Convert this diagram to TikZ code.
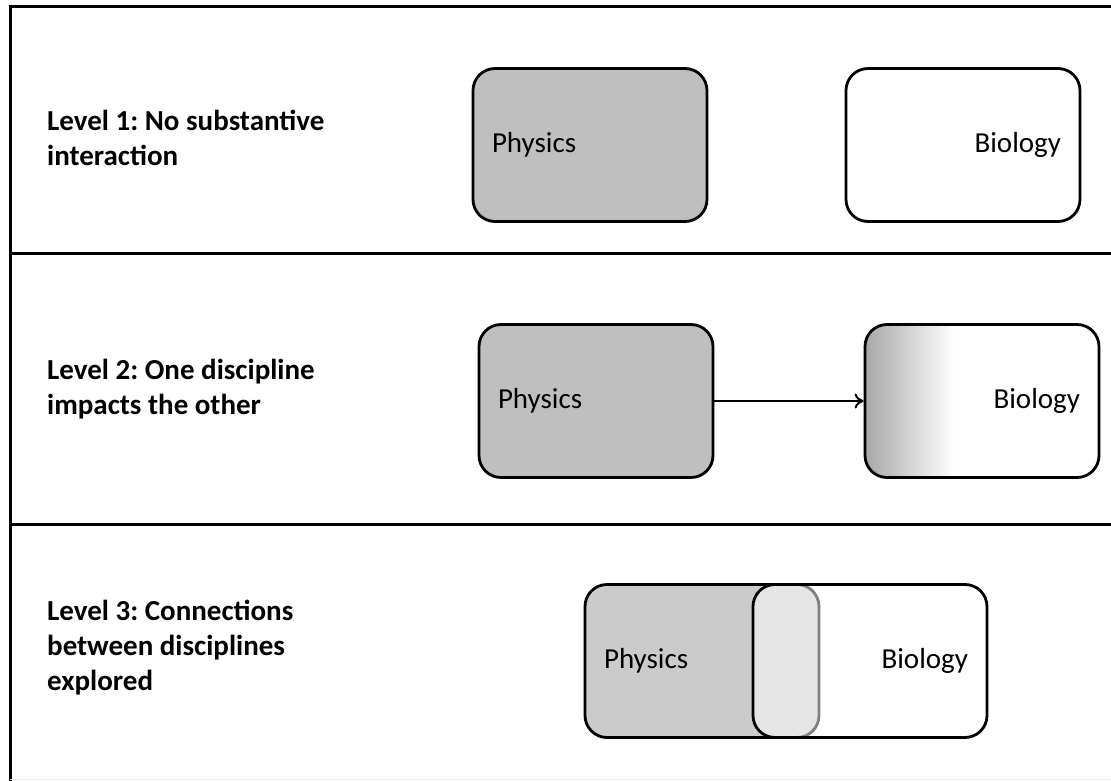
\documentclass[tikz,border=0pt]{standalone}
\usepackage{fontspec}
\setmainfont{Carlito}
\usetikzlibrary{arrows.meta}
\definecolor{physGray}{RGB}{191,191,191}
\definecolor{physLight}{RGB}{203,203,203}
\definecolor{fadeGray}{RGB}{168,168,168}
\pgfdeclarehorizontalshading{biofade}{100bp}{color(0bp)=(fadeGray); color(25bp)=(fadeGray); color(44bp)=(white); color(100bp)=(white)}
\frenchspacing

\begin{document}
\begin{tikzpicture}[x=1pt, y=-1pt]
    \tikzset{
        level/.style = {anchor=west, align=left, inner sep=0pt, font=\fontsize{29}{35}\selectfont\bfseries},
        disc/.style = {draw=black, line width=2.8pt, rounded corners=22pt, minimum height=153pt, text width=196pt, inner xsep=19pt, font=\fontsize{29}{34}\selectfont},
        physbox/.style = {disc, fill=physGray, align=left},
        biobox/.style = {disc, fill=white, align=right},
        rule/.style = {line width=3pt, black},
        arrow/.style = {-{To[length=9pt, width=15pt, line width=2pt]}, line width=2.4pt}
    }
    \useasboundingbox (0,0) rectangle (1111,781);

    % Frame
    \coordinate (tl) at (10,7);
    \coordinate (tr) at (1112,7);
    \coordinate (bl) at (10,782);
    \coordinate (br) at (1112,779);
    \coordinate (s1l) at (10,253);
    \coordinate (s1r) at (1112,253);
    \coordinate (s2l) at (10,524);
    \coordinate (s2r) at (1112,524);
    \draw[rule] (tr) -- (tl) -- (bl);
    \draw[rule] (s1l) -- (s1r);
    \draw[rule] (s2l) -- (s2r);
    \draw[line width=1pt, black!8] (bl |- br) -- (br);

    % Level 1
    \node[level] (lab1) at (47,138) {Level 1: No substantive\\interaction};
    \node[physbox] (p1) at (590,145) {Physics};
    \node[biobox] (b1) at (963,145) {Biology};

    % Level 2
    \node[level] (lab2) at (47,389) {Level 2: One discipline\\impacts the other};
    \node[physbox] (p2) at (596,401) {Physics};
    \node[biobox, shading=biofade] (b2) at (982,401) {Biology};
    \draw[arrow] (p2) -- (b2);

    % Level 3
    \node[level] (lab3) at (47,648) {Level 3: Connections\\between disciplines\\explored};
    \node[physbox, fill=physLight] (p3) at (702,661) {Physics};
    \node[biobox, fill opacity=0.5, text opacity=1] (b3) at (870,661) {Biology};
\end{tikzpicture}
\end{document}
